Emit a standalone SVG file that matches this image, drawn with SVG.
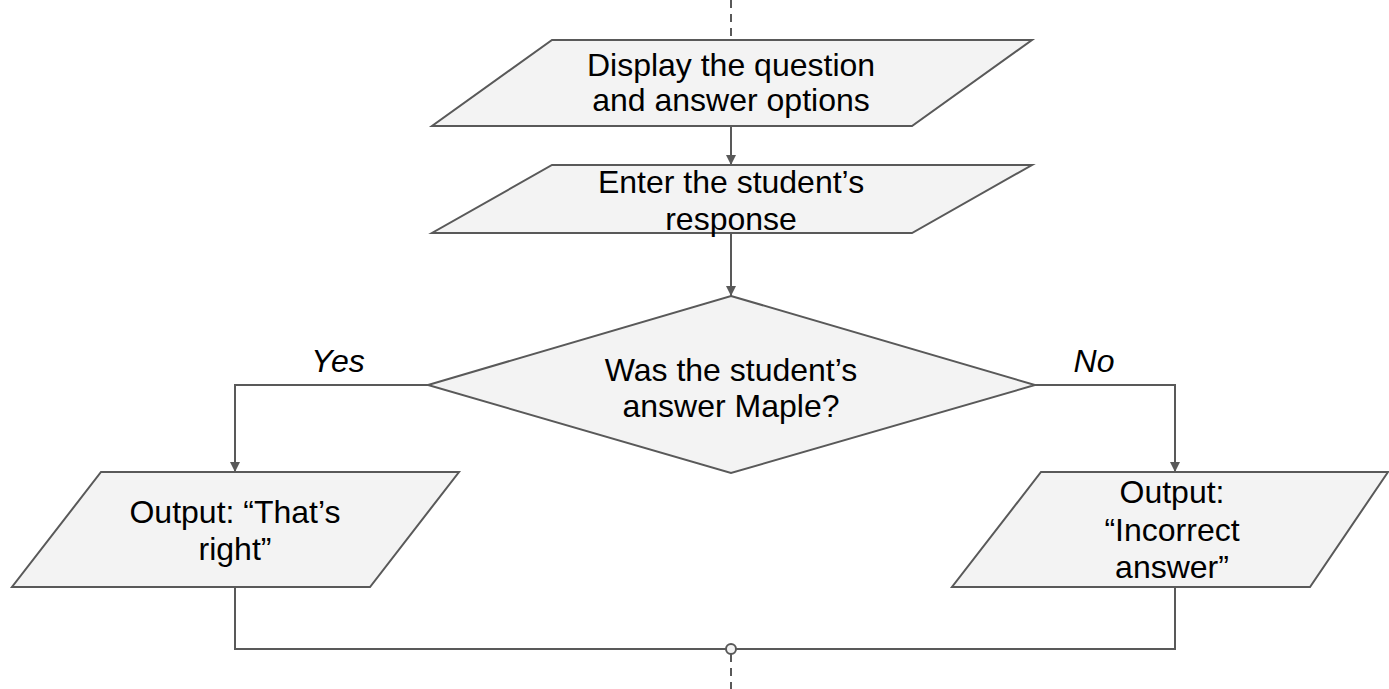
<svg xmlns="http://www.w3.org/2000/svg" width="1389" height="689" viewBox="0 0 1389 689">
<style>
.shape{fill:#f3f3f3;stroke:#595959;stroke-width:2;stroke-linejoin:miter}
.t{font-family:"Liberation Sans",Arial,sans-serif;font-size:32px;fill:#000;text-anchor:middle}
.lbl{font-family:"Liberation Sans",Arial,sans-serif;font-size:32px;font-style:italic;fill:#000;text-anchor:middle}
.c{fill:none;stroke:#595959;stroke-width:2}
.d{fill:none;stroke:#595959;stroke-width:2;stroke-dasharray:8,6}
</style>
<defs>
<marker id="ah" markerWidth="10" markerHeight="12" refX="10" refY="6" orient="auto" markerUnits="userSpaceOnUse">
<path d="M0,1 L10,6 L0,11 Z" fill="#595959"/>
</marker>
</defs>
<g id="connectors">
<line class="d" x1="731" y1="0" x2="731" y2="40"/>
<line class="c" x1="731" y1="126" x2="731" y2="165" marker-end="url(#ah)"/>
<line class="c" x1="731" y1="233" x2="731" y2="296" marker-end="url(#ah)"/>
<polyline class="c" points="428,385 235,385 235,472" marker-end="url(#ah)"/>
<polyline class="c" points="1035,385 1175,385 1175,472" marker-end="url(#ah)"/>
<polyline class="c" points="235,587 235,649 1175,649 1175,587"/>
<line class="d" x1="731" y1="654" x2="731" y2="689"/>
<circle cx="731" cy="649" r="5" fill="#f3f3f3" stroke="#595959" stroke-width="2"/>
<text class="lbl" x="338" y="372">Yes</text>
<text class="lbl" x="1094" y="372">No</text>
</g>
<g id="display">
<polygon class="shape" points="552,40 1032,40 912,126 432,126"/>
<text class="t" x="731" y="76">Display the question</text>
<text class="t" x="731" y="111">and answer options</text>
</g>
<g id="enter">
<polygon class="shape" points="552,165 1032,165 912,233 432,233"/>
<text class="t" x="731" y="193">Enter the student’s</text>
<text class="t" x="731" y="230">response</text>
</g>
<g id="decision">
<polygon class="shape" points="731,296 1035,385 731,473 428,385"/>
<text class="t" x="731" y="381">Was the student’s</text>
<text class="t" x="731" y="417">answer Maple?</text>
</g>
<g id="right">
<polygon class="shape" points="101,472 459,472 370,587 12,587"/>
<text class="t" x="235" y="523">Output: “That’s</text>
<text class="t" x="235" y="560">right”</text>
</g>
<g id="wrong">
<polygon class="shape" points="1041,472 1388,472 1310,587 952,587"/>
<text class="t" x="1172" y="503">Output:</text>
<text class="t" x="1172" y="541">“Incorrect</text>
<text class="t" x="1172" y="578">answer”</text>
</g>
</svg>
